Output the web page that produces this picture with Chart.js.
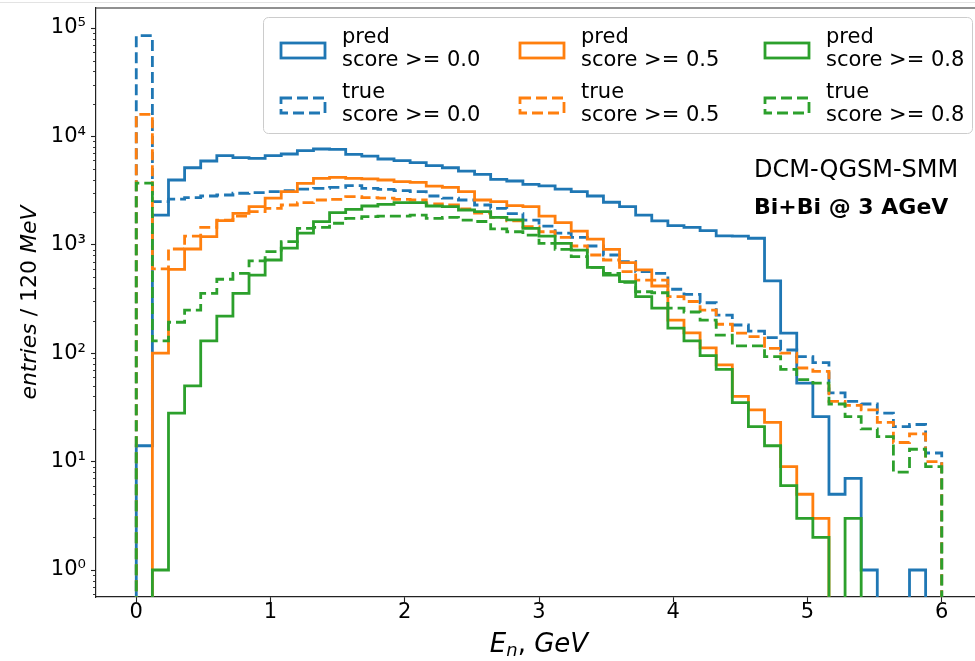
<!DOCTYPE html>
<html lang="en">
<head>
  <meta charset="UTF-8">
  <title>Neutron energy spectrum</title>
  <style>
    html, body {
      margin: 0;
      padding: 0;
      background-color: #ffffff;
      overflow: hidden;
    }

    #wrap {
      width: 990px;
      height: 661px;
    }
  </style>
</head>
<body>
  <div id="wrap">
    <canvas id="spectrum" width="990" height="661"></canvas>
  </div>

  <script src="https://cdn.jsdelivr.net/npm/chart.js@4.4.1/dist/chart.umd.min.js"></script>
  <script>
    // bin edges, GeV (120 MeV bins)
    const binEdges = [0.00, 0.12, 0.24, 0.36, 0.48, 0.60, 0.72, 0.84, 0.96, 1.08,
      1.20, 1.32, 1.44, 1.56, 1.68, 1.80, 1.92, 2.04, 2.16, 2.28,
      2.40, 2.52, 2.64, 2.76, 2.88, 3.00, 3.12, 3.24, 3.36, 3.48,
      3.60, 3.72, 3.84, 3.96, 4.08, 4.20, 4.32, 4.44, 4.56, 4.68,
      4.80, 4.92, 5.04, 5.16, 5.28, 5.40, 5.52, 5.64, 5.76, 5.88, 6.00];

    // entries per bin
    const predScore00 = [14, 1880, 3960, 5140, 5930, 6640, 6360, 6280, 6640, 6880,
      7380, 7650, 7600, 6840, 6590, 6190, 5970, 5720, 5370, 5140,
      4790, 4470, 4020, 3880, 3610, 3490, 3270, 3090, 2820, 2470,
      2250, 1880, 1660, 1500, 1450, 1350, 1210, 1200, 1150, 464,
      153, 53, 26, 5, 7, 1, 0, 0, 1, 0];
    const trueScore00 = [85000, 2500, 2640, 2720, 2820, 2880, 2990, 3030, 3090, 3160,
      3270, 3320, 3390, 3510, 3320, 3250, 3160, 3090, 2820, 2690,
      2590, 2330, 2170, 1940, 1690, 1490, 1280, 1170, 975, 805,
      698, 565, 546, 389, 349, 292, 225, 182, 160, 139,
      107, 93, 82, 43, 36, 34, 28, 21, 22, 12];
    const predScore05 = [0, 100, 594, 915, 1190, 1670, 1950, 2250, 2690, 3090,
      3690, 4100, 4190, 4100, 4050, 3960, 3820, 3770, 3480, 3390,
      3090, 2590, 2500, 2300, 2250, 1840, 1600, 1340, 1130, 908,
      684, 586, 417, 202, 154, 112, 78, 40, 30, 23,
      9, 5, 3, 0, 0, 0, 0, 0, 0, 0];
    const trueScore05 = [16000, 600, 915, 1205, 1450, 1690, 1840, 2020, 2170, 2330,
      2450, 2590, 2630, 2780, 2720, 2690, 2630, 2590, 2380, 2330,
      2140, 1960, 1790, 1660, 1470, 1320, 1170, 975, 805, 724,
      565, 473, 473, 332, 300, 250, 185, 153, 142, 111,
      100, 73, 68, 36, 33, 30, 23, 15, 18, 10];
    const predScore08 = [0, 1, 28, 50, 130, 220, 357, 526, 724, 930,
      1280, 1635, 1980, 2125, 2280, 2360, 2450, 2450, 2280, 2250,
      2095, 2020, 1790, 1700, 1420, 1205, 1030, 895, 620, 526,
      457, 332, 260, 170, 130, 95, 71, 35, 21, 14,
      6, 3, 2, 0, 3, 0, 0, 0, 0, 0];
    const trueScore08 = [3700, 130, 193, 250, 357, 481, 546, 710, 864, 1070,
      1420, 1450, 1580, 1750, 1820, 1840, 1840, 1880, 1750, 1790,
      1690, 1640, 1400, 1320, 1230, 1030, 908, 777, 620, 546,
      450, 369, 361, 260, 240, 202, 147, 117, 117, 93,
      71, 57, 53, 34, 26, 20, 17, 8, 13, 9];

    const seriesLabels = [
      ['pred', 'score >= 0.0'], ['true', 'score >= 0.0'],
      ['pred', 'score >= 0.5'], ['true', 'score >= 0.5'],
      ['pred', 'score >= 0.8'], ['true', 'score >= 0.8']
    ];
    const xTicks = [0, 1, 2, 3, 4, 5, 6];
    const yTicks = [1, 10, 100, 1000, 10000, 100000];

    const BLUE = '#1f77b4';
    const ORANGE = '#ff7f0e';
    const GREEN = '#2ca02c';
    const FONT = "'DejaVu Sans', sans-serif";
    const EMPTY = 1e-3; // empty bins fall below the axis, like matplotlib's clip

    function stepPoints(counts) {
      const pts = [{ x: binEdges[0], y: EMPTY }];
      counts.forEach((c, i) => pts.push({ x: binEdges[i], y: c > 0 ? c : EMPTY }));
      pts.push({ x: binEdges[binEdges.length - 1], y: EMPTY });
      return pts;
    }

    const allSeries = [predScore00, trueScore00, predScore05, trueScore05, predScore08, trueScore08];
    const colors = [BLUE, BLUE, ORANGE, ORANGE, GREEN, GREEN];
    const dashes = [[], [11, 5], [], [11, 5], [], [11, 5]];

    const datasets = allSeries.map((counts, i) => ({
      label: seriesLabels[i].join(' '),
      data: stepPoints(counts),
      borderColor: colors[i],
      borderWidth: 2.8,
      borderDash: dashes[i],
      stepped: true,
      fill: false,
      pointRadius: 0,
      borderJoinStyle: 'miter',
      order: 5 - i
    }));

    const superDigits = { '0': '\u2070', '1': '\u00b9', '2': '\u00b2', '3': '\u00b3', '4': '\u2074', '5': '\u2075' };

    // draws one line of text made of pieces [text, italic], centered on 0
    function drawPieces(ctx, pieces, size) {
      let total = 0;
      const widths = pieces.map(p => {
        ctx.font = (p[1] ? 'italic ' : '') + size + 'px ' + FONT;
        const w = ctx.measureText(p[0]).width;
        total += w;
        return w;
      });
      let x = -total / 2;
      pieces.forEach((p, i) => {
        ctx.font = (p[1] ? 'italic ' : '') + size + 'px ' + FONT;
        ctx.fillText(p[0], x, 0);
        x += widths[i];
      });
    }

    const decorations = {
      id: 'decorations',
      afterDraw(chart) {
        const { ctx, chartArea: a, scales: { y } } = chart;
        ctx.save();

        // light page edge at the very top
        ctx.strokeStyle = '#e3e3e3';
        ctx.lineWidth = 1;
        ctx.beginPath();
        ctx.moveTo(0, 2.5);
        ctx.lineTo(chart.width, 2.5);
        ctx.stroke();

        // top and right spines
        ctx.strokeStyle = '#222222';
        ctx.lineWidth = 1.2;
        ctx.beginPath();
        ctx.moveTo(a.left, a.top);
        ctx.lineTo(a.right, a.top);
        ctx.lineTo(a.right, a.bottom);
        ctx.stroke();

        // minor log ticks
        ctx.lineWidth = 0.9;
        ctx.beginPath();
        for (let e = -1; e <= 5; e++) {
          for (let k = 2; k <= 9; k++) {
            const v = k * Math.pow(10, e);
            if (v < y.min || v > y.max) continue;
            const py = Math.round(y.getPixelForValue(v)) + 0.5;
            ctx.moveTo(a.left - 3, py);
            ctx.lineTo(a.left, py);
          }
        }
        ctx.stroke();

        // legend
        ctx.fillStyle = 'rgba(255,255,255,0.8)';
        ctx.strokeStyle = '#cccccc';
        ctx.lineWidth = 1;
        ctx.beginPath();
        ctx.roundRect(263.5, 17.5, 709, 116, 5);
        ctx.fill();
        ctx.stroke();

        const colX = [281, 520, 765];
        const rowY = [50.5, 105.5];
        chart.data.datasets.forEach((ds, i) => {
          const hx = colX[Math.floor(i / 2)];
          const hy = rowY[i % 2];
          ctx.strokeStyle = ds.borderColor;
          ctx.lineWidth = ds.borderWidth;
          ctx.setLineDash(ds.borderDash);
          ctx.strokeRect(hx, hy - 7.5, 44, 15);
          ctx.setLineDash([]);
          ctx.fillStyle = '#000000';
          ctx.font = '21px ' + FONT;
          ctx.textAlign = 'left';
          ctx.textBaseline = 'middle';
          ctx.fillText(seriesLabels[i][0], hx + 61, hy - 12.5);
          ctx.fillText(seriesLabels[i][1], hx + 61, hy + 10.5);
        });

        // annotation
        ctx.fillStyle = '#000000';
        ctx.textAlign = 'left';
        ctx.textBaseline = 'middle';
        ctx.font = '24px ' + FONT;
        ctx.fillText('DCM-QGSM-SMM', 754, 171);
        ctx.font = 'bold 22px ' + FONT;
        ctx.fillText('Bi+Bi @ 3 AGeV', 754, 208);

        // axis titles
        ctx.textAlign = 'left';
        ctx.textBaseline = 'middle';
        ctx.save();
        ctx.translate(30, (a.top + a.bottom) / 2);
        ctx.rotate(-Math.PI / 2);
        drawPieces(ctx, [['entries', true], [' / 120 ', false], ['MeV', true]], 22);
        ctx.restore();

        ctx.save();
        ctx.translate((a.left + a.right) / 2, 645);
        ctx.font = 'italic 26px ' + FONT;
        const wE = ctx.measureText('E').width;
        ctx.font = 'italic 18px ' + FONT;
        const wn = ctx.measureText('n').width;
        ctx.font = '26px ' + FONT;
        const wc = ctx.measureText(', ').width;
        ctx.font = 'italic 26px ' + FONT;
        const wG = ctx.measureText('GeV').width;
        let x = -(wE + wn + wc + wG) / 2;
        ctx.font = 'italic 26px ' + FONT;
        ctx.fillText('E', x, 0); x += wE;
        ctx.font = 'italic 18px ' + FONT;
        ctx.fillText('n', x, 6); x += wn;
        ctx.font = '26px ' + FONT;
        ctx.fillText(', ', x, 0); x += wc;
        ctx.font = 'italic 26px ' + FONT;
        ctx.fillText('GeV', x, 0);
        ctx.restore();

        ctx.restore();
      }
    };

    new Chart(document.getElementById('spectrum'), {
      type: 'line',
      data: { datasets: datasets },
      options: {
        responsive: false,
        animation: false,
        layout: { padding: { left: 0, top: 8, right: 8, bottom: 0 } },
        plugins: {
          legend: { display: false },
          tooltip: { enabled: false }
        },
        scales: {
          x: {
            type: 'linear',
            min: -0.3,
            max: 6.3,
            afterBuildTicks: scale => { scale.ticks = xTicks.map(v => ({ value: v })); },
            afterFit: scale => {
              scale.height = 64;
              scale.paddingLeft = 0;
              scale.paddingRight = 0;
            },
            grid: { drawOnChartArea: false, drawTicks: true, tickLength: 5, color: '#222222', tickWidth: 1.1 },
            border: { display: true, color: '#222222', width: 1.2 },
            ticks: {
              autoSkip: false,
              maxRotation: 0,
              padding: -2,
              color: '#000000',
              font: { family: FONT, size: 21 },
              callback: v => String(v)
            }
          },
          y: {
            type: 'logarithmic',
            min: 0.5636,
            max: 152950,
            afterBuildTicks: scale => { scale.ticks = yTicks.map(v => ({ value: v, major: true })); },
            afterFit: scale => {
              scale.width = 96;
              scale.paddingTop = 0;
              scale.paddingBottom = 0;
            },
            grid: { drawOnChartArea: false, drawTicks: true, tickLength: 5, color: '#222222', tickWidth: 1.1 },
            border: { display: true, color: '#222222', width: 1.2 },
            ticks: {
              autoSkip: false,
              padding: 5,
              color: '#000000',
              font: { family: FONT, size: 21 },
              callback: v => '10' + superDigits[String(Math.round(Math.log10(v)))]
            }
          }
        }
      },
      plugins: [decorations]
    });
  </script>
</body>
</html>
